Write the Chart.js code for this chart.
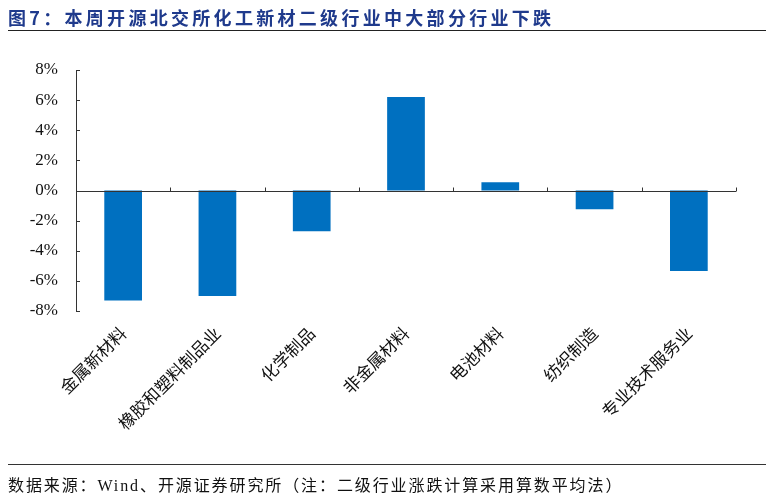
<!DOCTYPE html>
<html><head><meta charset="utf-8">
<script src="https://cdn.jsdelivr.net/npm/chart.js@4.4.1/dist/chart.umd.min.js"></script>
<style>
html,body{margin:0;padding:0;background:#fff;}
#wrap{position:relative;width:774px;height:499px;overflow:hidden;}
#c{position:absolute;left:0;top:0;}
#title{position:absolute;left:8px;top:4px;font-family:"Noto Sans CJK SC",sans-serif;font-weight:bold;font-size:18px;letter-spacing:3.3px;color:#1F3A8C;white-space:nowrap;}
#l1{position:absolute;left:8px;top:30px;width:758px;height:0;border-top:1.5px solid #222;}
#l2{position:absolute;left:8px;top:464px;width:758px;height:0;border-top:1px solid #333;}
#foot{position:absolute;left:8px;top:472px;font-family:"Liberation Serif","Noto Sans CJK SC",serif;font-size:16px;letter-spacing:1.9px;color:#111;white-space:nowrap;}
</style></head>
<body><div id="wrap">
<canvas id="c" width="774" height="499"></canvas>
<div id="title">图7：本周开源北交所化工新材二级行业中大部分行业下跌</div>
<div id="l1"></div>
<div id="l2"></div>
<div id="foot">数据来源：Wind、开源证券研究所（注：二级行业涨跌计算采用算数平均法）</div>
</div>
<script>
const categories = ["金属新材料","橡胶和塑料制品业","化学制品","非金属材料","电池材料","纺织制造","专业技术服务业"];
const changePct = [-7.3, -7.0, -2.7, 6.2, 0.55, -1.25, -5.35];
const yTicks = [-8,-6,-4,-2,0,2,4,6,8];

const axisPlugin = {
  id: 'axisPlugin',
  afterDatasetsDraw(chart){
    const ctx = chart.ctx, x = chart.scales.x, y = chart.scales.y;
    const left = chart.chartArea.left, right = chart.chartArea.right;
    ctx.save();
    ctx.strokeStyle = '#333'; ctx.lineWidth = 1;
    ctx.beginPath();
    ctx.moveTo(left+0.5, y.getPixelForValue(8)); ctx.lineTo(left+0.5, y.getPixelForValue(-8));
    ctx.stroke();
    yTicks.forEach(v=>{
      const py = Math.round(y.getPixelForValue(v))+0.5;
      ctx.beginPath(); ctx.moveTo(left, py); ctx.lineTo(left+4, py); ctx.stroke();
    });
    const zy = Math.round(y.getPixelForValue(0))+0.5;
    ctx.beginPath(); ctx.moveTo(left, zy); ctx.lineTo(right, zy); ctx.stroke();
    const n = categories.length;
    for(let i=1;i<=n;i++){
      const px = Math.round(x.getPixelForValue(i-0.5))+0.5;
      ctx.beginPath(); ctx.moveTo(px, zy); ctx.lineTo(px, zy-4); ctx.stroke();
    }
    ctx.restore();
  }
};

new Chart(document.getElementById('c'), {
  type: 'bar',
  data: { labels: categories, datasets: [{ data: changePct, backgroundColor: '#0070C0', categoryPercentage: 0.8, barPercentage: 0.5 }] },
  options: {
    responsive: false, animation: false,
    layout: { padding: { top: 70, right: 38, left: 0, bottom: 0 } },
    plugins: { legend: { display: false }, tooltip: { enabled: false } },
    scales: {
      x: {
        grid: { display: false, drawTicks: false }, border: { display: false },
        ticks: { color: '#111', font: { family: '"Noto Sans CJK SC", sans-serif', size: 17 }, maxRotation: 45, minRotation: 45, padding: 12 },
        afterFit(s){ s.height = 188; }
      },
      y: {
        min: -8, max: 8,
        grid: { display: false, drawTicks: false }, border: { display: false },
        ticks: { stepSize: 2, color: '#111', padding: 18, font: { family: '"Liberation Serif", serif', size: 17 }, callback: v => v + '%' },
        afterFit(s){ s.width = 76; }
      }
    }
  },
  plugins: [axisPlugin]
});
</script>
</body></html>
